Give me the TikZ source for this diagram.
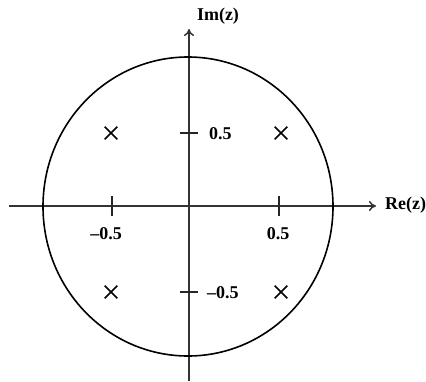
\documentclass[tikz,border=0pt]{standalone}
\usepackage{fontspec}
\setmainfont{Liberation Serif}
\usetikzlibrary{arrows.meta, shapes.misc}

\tikzset{
  axis/.style={line width=1.8pt, black!80, -{To[length=7pt, width=10pt, line width=1.5pt]}},
  pole/.style={cross out, draw, line width=1.6pt, minimum size=11pt, inner sep=0pt},
  tick/.style={line width=1.7pt, black!85},
  lbl/.style={font=\fontsize{18}{20}\selectfont\bfseries, inner sep=0pt}
}

\begin{document}
\begin{tikzpicture}[x=1pt, y=-1pt]
    \useasboundingbox (0,0) rectangle (426,381);

    % Axes
    \coordinate (o) at (189,206);
    \coordinate (xl) at (9,206);
    \coordinate (xr) at (376,206);
    \coordinate (yt) at (189,29);
    \coordinate (yb) at (189,381);
    \draw[axis] (xl) -- (xr);
    \draw[axis] (yb) -- (yt);

    % Unit circle
    \draw[line width=1.6pt] (188,206.5) ellipse (145 and 149.5);

    % Ticks
    \foreach \x in {112,279} {
      \draw[tick] (\x,196) -- (\x,216);
    }
    \foreach \y in {133,292} {
      \draw[tick] (180,\y) -- (198,\y);
    }

    % Labels
    \node[lbl, anchor=west] (re) at (385,205) {Re(z)};
    \node[lbl] (im) at (218,16) {Im(z)};
    \node[lbl] (xm) at (106,234) {--0.5};
    \node[lbl] (xp) at (278,234) {0.5};
    \node[lbl, anchor=west] (yp) at (209,134) {0.5};
    \node[lbl, anchor=west] (ym) at (207,293) {--0.5};

    % Poles
    \node[pole] (p1) at (111,133) {};
    \node[pole] (p2) at (281,133) {};
    \node[pole] (p3) at (111,292) {};
    \node[pole] (p4) at (281,292) {};
\end{tikzpicture}
\end{document}
